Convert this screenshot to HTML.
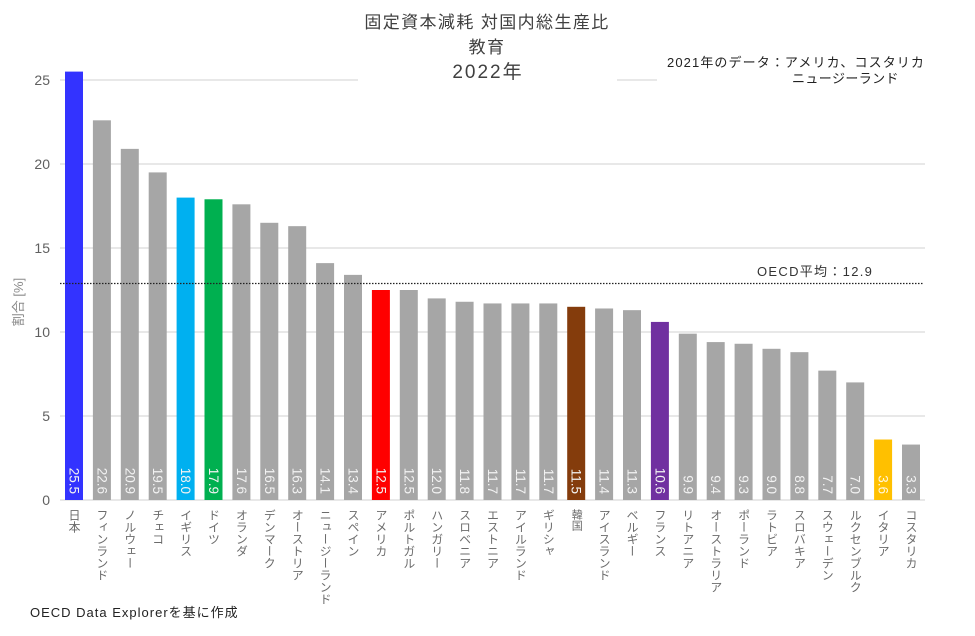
<!DOCTYPE html>
<html><head><meta charset="utf-8">
<style>
html,body{margin:0;padding:0;background:#fff;}
#wrap{position:relative;width:975px;height:636px;overflow:hidden;background:#fff;font-family:"Liberation Sans","Noto Sans CJK JP",sans-serif;}
svg{position:absolute;left:0;top:0;}
.xl{position:absolute;top:509px;width:14px;writing-mode:vertical-rl;font-size:12px;line-height:14px;color:#6b6b6b;font-family:"Liberation Sans","Noto Sans CJK JP",sans-serif;white-space:nowrap;}
</style></head>
<body><div id="wrap">
<svg width="975" height="636" viewBox="0 0 975 636" xmlns="http://www.w3.org/2000/svg" font-family="Liberation Sans, Noto Sans CJK JP, sans-serif">
<g stroke="#d9d9d9" stroke-width="1.3">
<line x1="60" y1="80" x2="358" y2="80"/>
<line x1="617" y1="80" x2="657" y2="80"/>
<line x1="60" y1="164" x2="925" y2="164"/>
<line x1="60" y1="248" x2="925" y2="248"/>
<line x1="60" y1="332" x2="925" y2="332"/>
<line x1="60" y1="416" x2="925" y2="416"/>
<line x1="60" y1="500" x2="925" y2="500"/>
</g>
<g font-size="14" fill="#606060" text-anchor="end">
<text x="50" y="85">25</text>
<text x="50" y="169">20</text>
<text x="50" y="253">15</text>
<text x="50" y="337">10</text>
<text x="50" y="421">5</text>
<text x="50" y="505">0</text>
</g>
<text transform="translate(23,302) rotate(-90)" text-anchor="middle" font-size="13" fill="#8a8a8a">割合 [%]</text>
<g id="bars"></g>
<line x1="60" y1="283.5" x2="923" y2="283.5" stroke="#222" stroke-width="1.2" stroke-dasharray="1.5,1.5"/>
<text x="757" y="276" font-size="13" fill="#333" letter-spacing="1.3">OECD平均：12.9</text>
<g fill="#404040" text-anchor="middle">
<text x="487" y="28" font-size="17" letter-spacing="1.4">固定資本減耗 対国内総生産比</text>
<text x="487" y="53" font-size="17" letter-spacing="1.4">教育</text>
<text x="488" y="78" font-size="19" letter-spacing="2">2022年</text>
</g>
<g fill="#222" font-size="13">
<text x="667" y="67" letter-spacing="1.1">2021年のデータ：アメリカ、コスタリカ</text>
<text x="792" y="83" letter-spacing="0.4">ニュージーランド</text>
</g>
<text x="30" y="617" font-size="13" fill="#222" letter-spacing="1">OECD Data Explorerを基に作成</text>
</svg>
<div id="labels"></div>
</div>
<script>
var vals=[25.5,22.6,20.9,19.5,18.0,17.9,17.6,16.5,16.3,14.1,13.4,12.5,12.5,12.0,11.8,11.7,11.7,11.7,11.5,11.4,11.3,10.6,9.9,9.4,9.3,9.0,8.8,7.7,7.0,3.6,3.3];
var names=["日本","フィンランド","ノルウェー","チェコ","イギリス","ドイツ","オランダ","デンマーク","オーストリア","ニュージーランド","スペイン","アメリカ","ポルトガル","ハンガリー","スロベニア","エストニア","アイルランド","ギリシャ","韓国","アイスランド","ベルギー","フランス","リトアニア","オーストラリア","ポーランド","ラトビア","スロバキア","スウェーデン","ルクセンブルク","イタリア","コスタリカ"];
var col={0:"#3333ff",4:"#00b0f0",5:"#00b050",11:"#ff0000",18:"#843c0c",21:"#7030a0",29:"#ffc000"};
var ns="http://www.w3.org/2000/svg";
var g=document.getElementById("bars");
var lab=document.getElementById("labels");
for(var i=0;i<vals.length;i++){
  var x=65+i*27.9, w=18, h=vals[i]*16.8, y=500-h;
  var r=document.createElementNS(ns,"rect");
  r.setAttribute("x",x);r.setAttribute("y",y);r.setAttribute("width",w);r.setAttribute("height",h);
  r.setAttribute("fill",col[i]||"#a6a6a6");
  g.appendChild(r);
  var t=document.createElementNS(ns,"text");
  var cx=x+w/2;
  t.setAttribute("transform","translate("+cx+",494) rotate(90)");
  t.setAttribute("text-anchor","end");
  t.setAttribute("dominant-baseline","central");
  t.setAttribute("font-size","13.5");
  t.setAttribute("fill",(i==29)?"#fff6dc":"#f2f2f2");
  t.textContent=vals[i].toFixed(1);
  g.appendChild(t);
  var d=document.createElement("div");
  d.className="xl";
  d.style.left=(cx-7)+"px";
  if(names[i]=="韓国"){d.style.fontSize="11px";}
  d.textContent=names[i];
  lab.appendChild(d);
}
</script>
</body></html>
